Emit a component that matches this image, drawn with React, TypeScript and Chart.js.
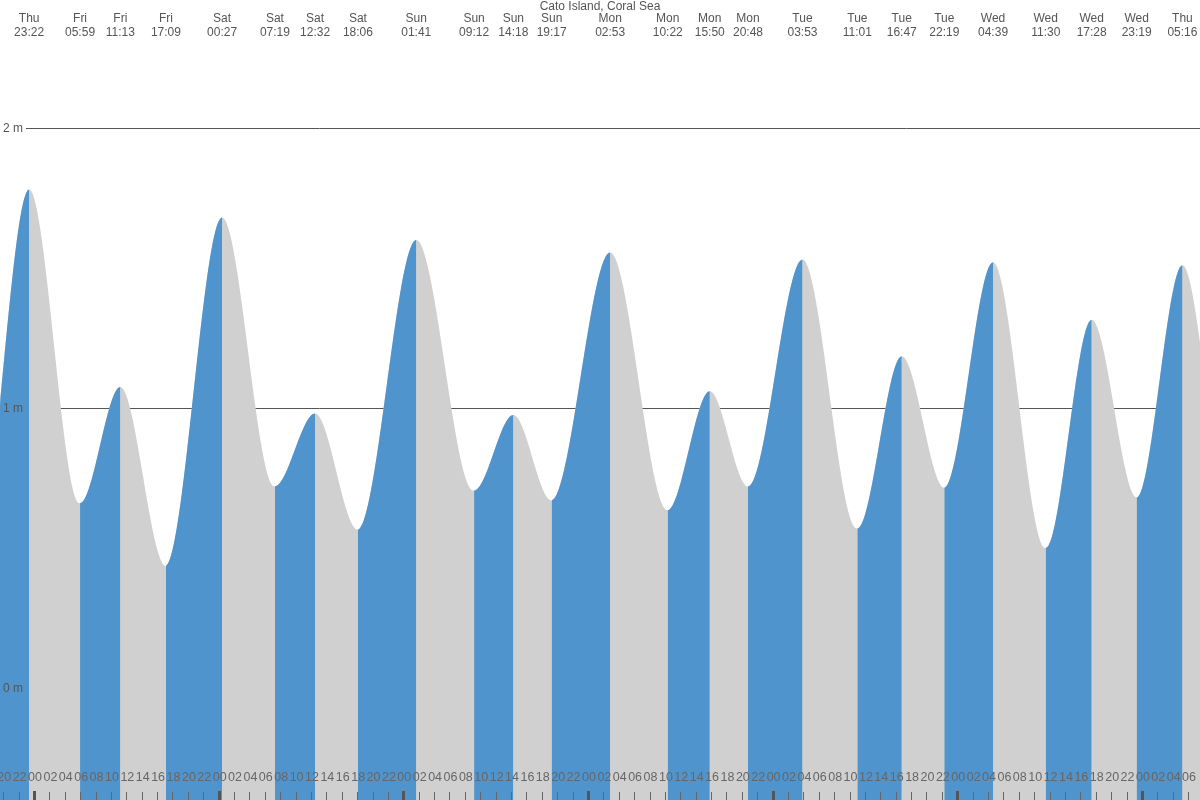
import React, { useEffect, useRef } from 'react';
import { Chart, registerables } from 'chart.js';

Chart.register(...registerables);

const TITLE = 'Cato Island, Coral Sea';

// Tide extremes (day, local time, height in metres)
const eventDays = ['Thu', 'Fri', 'Fri', 'Fri', 'Sat', 'Sat', 'Sat', 'Sat', 'Sun', 'Sun', 'Sun', 'Sun', 'Mon', 'Mon', 'Mon', 'Mon', 'Tue', 'Tue', 'Tue', 'Tue', 'Wed', 'Wed', 'Wed', 'Wed', 'Thu'];
const eventTimes = ['23:22', '05:59', '11:13', '17:09', '00:27', '07:19', '12:32', '18:06', '01:41', '09:12', '14:18', '19:17', '02:53', '10:22', '15:50', '20:48', '03:53', '11:01', '16:47', '22:19', '04:39', '11:30', '17:28', '23:19', '05:16'];
const eventHeights = [1.78, 0.66, 1.075, 0.435, 1.68, 0.72, 0.98, 0.565, 1.6, 0.705, 0.975, 0.67, 1.555, 0.635, 1.06, 0.72, 1.53, 0.57, 1.185, 0.715, 1.52, 0.5, 1.315, 0.68, 1.51];

// Extremes just outside the visible window (hours from Fri 00:00)
const leadHours = [-13.6, -7.4];
const leadHeights = [1.1, 0.47];
const trailHours = [155.7, 161.6];
const trailHeights = [0.55, 1.2];

// Axis settings
const yTickValues = [0, 1, 2];
const yTickLabels = ['0 m', '1 m', '2 m'];
const Y_MIN = -0.4;
const Y_MAX = 2.457;
const X_MIN = -4.42; // hours relative to Fri 00:00
const X_MAX = 151.55;
const HOUR_TICK_START = -4;
const HOUR_TICK_END = 150;
const HOUR_TICK_STEP = 2;

const BLUE = '#4f94cd';
const GRAY = '#d0d0d0';
const TEXT = '#555555';
const FONT = "'Liberation Sans', Arial, sans-serif";

function computeEventHours(): number[] {
  let dayIdx = -1;
  return eventDays.map((d, i) => {
    if (i > 0 && d !== eventDays[i - 1]) dayIdx++;
    const [h, m] = eventTimes[i].split(':').map(Number);
    return dayIdx * 24 + h + m / 60;
  });
}

const eventHours = computeEventHours();

const overlayPlugin = {
  id: 'tideOverlay',
  beforeDatasetsDraw(chart: any) {
    const { ctx, scales } = chart;
    const y = scales.y;
    ctx.save();
    ctx.strokeStyle = '#555555';
    ctx.lineWidth = 1;
    yTickValues.forEach((v) => {
      const py = Math.round(y.getPixelForValue(v)) + 0.5;
      ctx.beginPath();
      ctx.moveTo(26, py);
      ctx.lineTo(chart.width, py);
      ctx.stroke();
    });
    ctx.restore();
  },
  afterDatasetsDraw(chart: any) {
    const { ctx, scales } = chart;
    const x = scales.x;
    const y = scales.y;
    ctx.save();
    ctx.fillStyle = TEXT;
    ctx.font = `12px ${FONT}`;

    // y labels
    ctx.textAlign = 'left';
    ctx.textBaseline = 'middle';
    yTickValues.forEach((v, i) => {
      ctx.fillText(yTickLabels[i], 3, y.getPixelForValue(v) + 0.5);
    });

    // title
    ctx.textAlign = 'center';
    ctx.textBaseline = 'alphabetic';
    ctx.fillText(TITLE, chart.width / 2, 10);

    // extreme labels
    eventHours.forEach((h, i) => {
      const px = x.getPixelForValue(h);
      ctx.fillText(eventDays[i], px, 22);
      ctx.fillText(eventTimes[i], px, 36);
    });

    // hour ticks
    ctx.font = `12.5px ${FONT}`;
    for (let t = HOUR_TICK_START; t <= HOUR_TICK_END; t += HOUR_TICK_STEP) {
      const px = x.getPixelForValue(t);
      const hr = ((t % 24) + 24) % 24;
      const label = String(hr).padStart(2, '0');
      ctx.fillStyle = '#666666';
      ctx.fillText(label, px + 1, 781);
      if (hr === 0) {
        ctx.fillStyle = '#555555';
        ctx.fillRect(Math.round(px) - 1, 791, 3, 9);
      } else {
        ctx.fillStyle = '#666666';
        ctx.fillRect(Math.round(px), 792, 1, 8);
      }
    }
    ctx.restore();
  },
};

export default function App() {
  const canvasRef = useRef<HTMLCanvasElement | null>(null);

  useEffect(() => {
    if (!canvasRef.current) return;
    const points = [
      ...leadHours.map((h, i) => ({ x: h, y: leadHeights[i] })),
      ...eventHours.map((h, i) => ({ x: h, y: eventHeights[i] })),
      ...trailHours.map((h, i) => ({ x: h, y: trailHeights[i] })),
    ];
    const common = {
      data: points,
      borderWidth: 0,
      borderColor: 'rgba(0,0,0,0)',
      fill: 'start',
      pointRadius: 0,
      cubicInterpolationMode: 'monotone',
    };
    const chart = new Chart(canvasRef.current, {
      type: 'line',
      data: {
        datasets: [
          {
            ...common,
            backgroundColor: BLUE,
            order: 0,
            segment: {
              backgroundColor: (c: any) => (c.p1.parsed.y > c.p0.parsed.y ? BLUE : 'rgba(0,0,0,0)'),
            },
          } as any,
          {
            ...common,
            backgroundColor: GRAY,
            order: 1,
          } as any,
        ],
      },
      options: {
        animation: false,
        responsive: false,
        maintainAspectRatio: false,
        devicePixelRatio: 1,
        layout: { padding: 0 },
        plugins: { legend: { display: false }, tooltip: { enabled: false }, title: { display: false } },
        events: [],
        scales: {
          x: { type: 'linear', min: X_MIN, max: X_MAX, display: false },
          y: { type: 'linear', min: Y_MIN, max: Y_MAX, display: false },
        },
      },
      plugins: [overlayPlugin],
    });
    return () => chart.destroy();
  }, []);

  return (
    <div style={{ position: 'fixed', left: 0, top: 0, width: 1200, height: 800, background: '#fff' }}>
      <canvas ref={canvasRef} width={1200} height={800} style={{ display: 'block' }} />
    </div>
  );
}
